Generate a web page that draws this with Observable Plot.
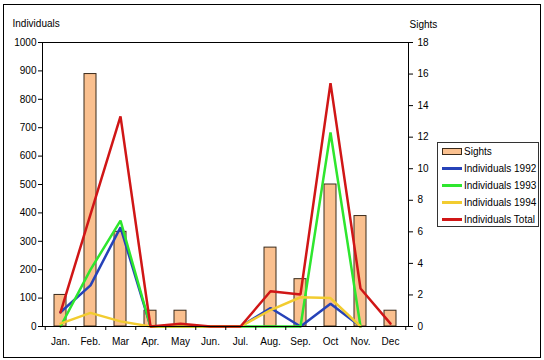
<!DOCTYPE html>
<html>
<head>
<meta charset="utf-8">
<script src="https://cdn.jsdelivr.net/npm/d3@7"></script>
<script src="https://cdn.jsdelivr.net/npm/@observablehq/plot@0.6"></script>
<style>
  html, body { margin: 0; padding: 0; background: #fff; }
  #wrap { position: relative; width: 544px; height: 360px; font-family: "Liberation Sans", Arial, sans-serif; font-size: 10px; color: #000; }
  #border { position: absolute; left: 3px; top: 4px; width: 536px; height: 352px; border: 1px solid #000; pointer-events: none; }
  #legend { position: absolute; left: 437px; top: 142px; width: 100px; height: 83px; border: 1px solid #333; background: #fff; }
  .row { height: 17px; display: flex; align-items: center; padding-left: 4px; }
  .sw { width: 20px; margin-right: 2px; flex: none; }
  .sw.line { height: 2.5px; }
  .sw.bar { height: 5px; border: 1px solid #3a2a1a; width: 18px; background: #fac08f; }
</style>
</head>
<body>
<div id="wrap">
  <div id="chart"></div>
  <div id="legend"></div>
  <div id="border"></div>
</div>
<script>
const months = ["Jan.","Feb.","Mar","Apr.","May","Jun.","Jul.","Aug.","Sep.","Oct","Nov.","Dec"];
const sights   = [2, 16, 6, 1, 1, 0, 0, 5, 3, 9, 7, 1];
const ind1992  = [50, 145, 349, 0, 0, 0, 0, 65, 0, 80, 0, null];
const ind1993  = [0, 200, 373, 0, 0, 0, 0, 0, 0, 683, 0, null];
const ind1994  = [10, 48, 18, 0, 0, 0, 0, 58, 103, 100, 0, null];
const indTotal = [50, 395, 740, 0, 10, 0, 0, 124, 113, 857, 134, 10];
const leftTicks  = [0,100,200,300,400,500,600,700,800,900,1000];
const rightTicks = [0,2,4,6,8,10,12,14,16,18];
const leftMax = 1000, rightMax = 18;

const series = [
  {name: "Individuals 1992", values: ind1992, color: "#2642b8"},
  {name: "Individuals 1993", values: ind1993, color: "#2ee62e"},
  {name: "Individuals 1994", values: ind1994, color: "#f2cc30"},
  {name: "Individuals Total", values: indTotal, color: "#d01616"}
];

const table = months.map((m, i) => ({month: m, sights: sights[i]}));
const toLeft = v => v * leftMax / rightMax;

const lineMarks = series.map(s =>
  Plot.line(months.map((m, i) => ({month: m, v: s.values[i]})), {
    x: "month", y: "v", stroke: s.color, strokeWidth: 2.5, strokeLinejoin: "miter"
  })
);

const chart = Plot.plot({
  width: 544,
  height: 360,
  marginLeft: 42,
  marginRight: 136,
  marginTop: 42,
  marginBottom: 34,
  style: {fontFamily: "'Liberation Sans', Arial, sans-serif", fontSize: "10px", color: "#000", background: "transparent"},
  x: {domain: months, paddingInner: 0.6, paddingOuter: 0.3, axis: null},
  y: {domain: [0, leftMax], axis: null},
  marks: [
    Plot.barY(table, {x: "month", y: d => toLeft(d.sights), fill: "#fac08f", stroke: "#3a2a1a", strokeWidth: 1}),
    ...lineMarks,
    Plot.frame({stroke: "#000"}),
    Plot.axisY({anchor: "left", ticks: leftTicks, tickFormat: d => String(d), tickSize: 4, tickPadding: 2, label: null}),
    Plot.axisY({anchor: "right", ticks: rightTicks.map(toLeft), tickFormat: d => String(Math.round(d * rightMax / leftMax)), tickSize: 4, tickPadding: 5, label: null}),
    Plot.axisX({tickSize: 0, tickPadding: 11, label: null}),
    Plot.axisX({ticks: months, tickSize: 4, tickFormat: () => "", dx: 15.25, label: null}),
    Plot.axisX({ticks: [months[0]], tickSize: 4, tickFormat: () => "", dx: -15.25, label: null}),
    Plot.text(["Individuals"], {frameAnchor: "top-left", dx: -30, dy: -23, textAnchor: "start", fontSize: 10}),
    Plot.text(["Sights"], {frameAnchor: "top-right", dx: 1, dy: -22, textAnchor: "start", fontSize: 10})
  ]
});
document.getElementById("chart").appendChild(chart);

const legend = document.getElementById("legend");
const barRow = document.createElement("div");
barRow.className = "row";
barRow.innerHTML = '<span class="sw bar"></span><span>Sights</span>';
legend.appendChild(barRow);
for (const s of series) {
  const r = document.createElement("div");
  r.className = "row";
  r.innerHTML = `<span class="sw line" style="background:${s.color}"></span><span>${s.name}</span>`;
  legend.appendChild(r);
}
</script>
</body>
</html>
